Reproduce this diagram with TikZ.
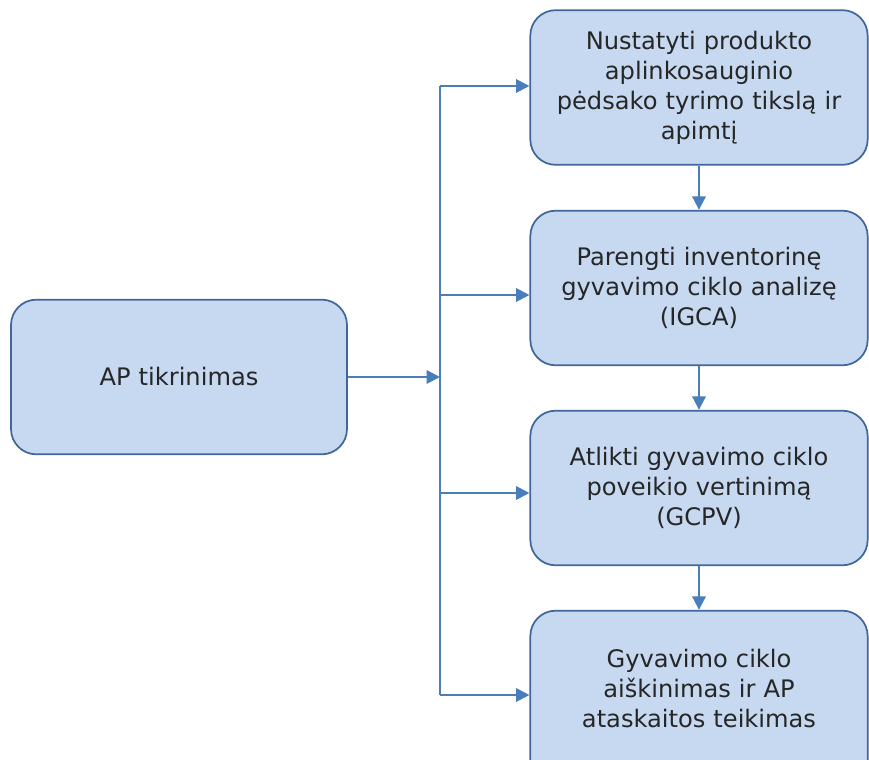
\documentclass[tikz,border=0pt]{standalone}
\usepackage{fontspec}
\setmainfont{DejaVu Sans}
\usetikzlibrary{arrows.meta}
\definecolor{boxfill}{HTML}{C6D9F1}
\definecolor{boxline}{HTML}{41679A}
\definecolor{link}{HTML}{4A7EBB}
\definecolor{ink}{HTML}{262626}
\begin{document}
\begin{tikzpicture}[x=0.75pt,y=-0.75pt,
  stagebox/.style={draw=boxline, line width=1.3pt, fill=boxfill, rounded corners=19pt,
    minimum width=253pt, minimum height=116pt, align=center, text=ink, text width=240pt,
    font=\fontsize{18.1}{22.5}\selectfont, inner sep=0pt},
  stagetext/.style={align=center, text=ink, text width=240pt,
    font=\fontsize{18.1}{22.5}\selectfont, inner sep=0pt},
  link/.style={draw=link, line width=1.5pt, -{Triangle[length=10pt,width=10pt]}},
  trunk/.style={draw=link, line width=1.5pt}]
  \useasboundingbox (0,0) rectangle (869,760);
  \clip (0,0) rectangle (869,760);

  % start box and the four stages
  \node[stagebox, minimum width=252pt] (start) at (179,377) {AP tikrinimas};
  \node[stagebox] (s1) at (699,87.5) {Nustatyti produkto\\aplinkosauginio\\pėdsako tyrimo tikslą ir\\apimtį};
  \node[stagebox] (s2) at (699,288) {Parengti inventorinę\\gyvavimo ciklo analizę\\(IGCA)};
  \node[stagebox] (s3) at (699,488) {Atlikti gyvavimo ciklo\\poveikio vertinimą\\(GCPV)};
  % the last stage runs past the lower edge
  \node[stagebox, minimum height=131pt] (s4) at (699,698) {};
  \node[stagetext] (s4text) at (699,689) {Gyvavimo ciklo\\aiškinimas ir AP\\ataskaitos teikimas};

  % branching trunk
  \coordinate (j) at (440,377);
  \coordinate (t1) at (440,86);
  \coordinate (t2) at (440,295);
  \coordinate (t3) at (440,493);
  \coordinate (t4) at (440,695);
  \draw[trunk] (t1) -- (t4);
  \draw[link] (start.east |- j) -- (j);
  \draw[link] (t1) -- (t1 -| s1.west);
  \draw[link] (t2) -- (t2 -| s2.west);
  \draw[link] (t3) -- (t3 -| s3.west);
  \draw[link] (t4) -- (t4 -| s4.west);

  % sequence between stages
  \draw[link] (s1.south) -- (s2.north);
  \draw[link] (s2.south) -- (s3.north);
  \draw[link] (s3.south) -- (s4.north);
\end{tikzpicture}
\end{document}
